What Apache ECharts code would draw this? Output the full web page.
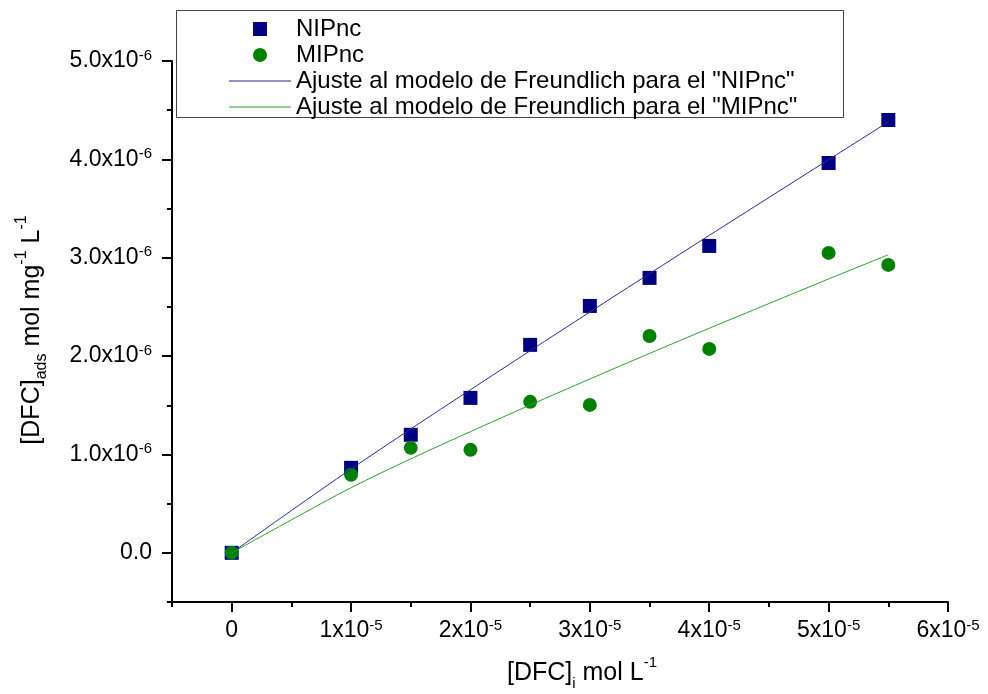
<!DOCTYPE html>
<html>
<head>
<meta charset="utf-8">
<script src="https://cdn.jsdelivr.net/npm/echarts@6/dist/echarts.min.js"></script>
<style>
    html, body { margin: 0; padding: 0; background: #fff; }
    #main { width: 988px; height: 694px; }
</style>
</head>
<body>
<div id="main"></div>
<script>
// concentraciones iniciales (mol/L)
var concX = [0, 1e-5, 1.5e-5, 2e-5, 2.5e-5, 3e-5, 3.5e-5, 4e-5, 5e-5, 5.5e-5];
var nipValues = [0, 0.864e-6, 1.200e-6, 1.575e-6, 2.114e-6, 2.510e-6, 2.795e-6, 3.120e-6, 3.963e-6, 4.400e-6];
var mipValues = [0, 0.793e-6, 1.067e-6, 1.047e-6, 1.535e-6, 1.504e-6, 2.205e-6, 2.073e-6, 3.049e-6, 2.927e-6];

// curvas de ajuste
var fitX = [0, 0.5e-5, 1e-5, 1.5e-5, 2e-5, 2.5e-5, 3e-5, 3.5e-5, 4e-5, 4.5e-5, 5e-5, 5.5e-5];
var nipFit = [0, 0.430e-6, 0.852e-6, 1.259e-6, 1.658e-6, 2.054e-6, 2.448e-6, 2.838e-6, 3.227e-6, 3.612e-6, 3.997e-6, 4.380e-6];
var mipFit = [0, 0.335e-6, 0.662e-6, 0.955e-6, 1.232e-6, 1.503e-6, 1.767e-6, 2.027e-6, 2.283e-6, 2.534e-6, 2.784e-6, 3.030e-6];

var seriesNames = ['NIPnc', 'MIPnc', 'Ajuste al modelo de Freundlich para el "NIPnc"', 'Ajuste al modelo de Freundlich para el "MIPnc"'];

var xTickText = ['0', '1x10', '2x10', '3x10', '4x10', '5x10', '6x10'];
var xTickExp = ['', '-5', '-5', '-5', '-5', '-5', '-5'];
var yTickText = ['0.0', '1.0x10', '2.0x10', '3.0x10', '4.0x10', '5.0x10'];
var yTickExp = ['', '-6', '-6', '-6', '-6', '-6'];

var xMin = -5e-6, xMax = 6e-5;
var yMin = -5e-7, yMax = 5e-6;

function pairs(xs, ys) {
    var out = [];
    for (var i = 0; i < xs.length; i++) {
        out.push([xs[i], ys[i]]);
    }
    return out;
}

var font = 'Liberation Sans';
var labelRich = {
    b: { fontFamily: font, fontSize: 23, lineHeight: 26, verticalAlign: 'middle', color: '#000' },
    s: { fontFamily: font, fontSize: 15, lineHeight: 14, verticalAlign: 'top', color: '#000' }
};
var lineIcon = 'path://M0,0L62,0L62,1.2L0,1.2Z';

// posicion del grid principal
var gLeft = 172, gRight = 40, gTop = 61, gBottom = 92;
var plotW = 988 - gLeft - gRight;
var plotH = 694 - gTop - gBottom;
var xShift = plotW * (0 - xMin) / (xMax - xMin);
var yShift = plotH * (0 - yMin) / (yMax - yMin);

var chart = echarts.init(document.getElementById('main'));
var option = {
    animation: false,
    backgroundColor: '#fff',
    grid: [
        { left: gLeft, right: gRight, top: gTop, bottom: gBottom },
        { left: gLeft + xShift, right: gRight, top: gTop, bottom: gBottom + yShift }
    ],
    xAxis: [
        {
            type: 'value', gridIndex: 0, min: xMin, max: xMax, interval: 5e-6,
            axisLine: { onZero: false, lineStyle: { color: '#000', width: 2 } },
            axisTick: { length: 5, lineStyle: { color: '#000', width: 2 } },
            axisLabel: { show: false },
            splitLine: { show: false }
        },
        {
            type: 'value', gridIndex: 1, min: 0, max: xMax, interval: 1e-5, offset: yShift,
            axisLine: { show: false, onZero: false },
            axisTick: { length: 10, lineStyle: { color: '#000', width: 2 } },
            axisLabel: {
                margin: 16,
                formatter: function (v) {
                    var i = Math.round(v / 1e-5);
                    var t = '{b|' + xTickText[i] + '}';
                    if (xTickExp[i]) t += '{s|' + xTickExp[i] + '}';
                    return t;
                },
                rich: labelRich
            },
            splitLine: { show: false }
        }
    ],
    yAxis: [
        {
            type: 'value', gridIndex: 0, min: yMin, max: yMax, interval: 5e-7,
            axisLine: { onZero: false, lineStyle: { color: '#000', width: 2 } },
            axisTick: { length: 5, lineStyle: { color: '#000', width: 2 } },
            axisLabel: { show: false },
            splitLine: { show: false }
        },
        {
            type: 'value', gridIndex: 1, min: 0, max: yMax, interval: 1e-6, offset: xShift,
            axisLine: { show: false, onZero: false },
            axisTick: { length: 10, lineStyle: { color: '#000', width: 2 } },
            axisLabel: {
                margin: 20,
                formatter: function (v) {
                    var i = Math.round(v / 1e-6);
                    var t = '{b|' + yTickText[i] + '}';
                    if (yTickExp[i]) t += '{s|' + yTickExp[i] + '}';
                    return t;
                },
                rich: labelRich
            },
            splitLine: { show: false }
        }
    ],
    legend: {
        orient: 'vertical',
        left: 224,
        top: 12,
        itemWidth: 62,
        itemHeight: 14,
        itemGap: 2,
        textStyle: { fontFamily: font, fontSize: 24, color: '#000' },
        data: [
            { name: seriesNames[0], icon: 'path://M0,0L10,0L10,10L0,10Z' },
            { name: seriesNames[1], icon: 'circle' },
            { name: seriesNames[2], icon: lineIcon },
            { name: seriesNames[3], icon: lineIcon }
        ]
    },
    graphic: [
        {
            type: 'rect', z: 1,
            shape: { x: 176.5, y: 10.5, width: 667, height: 107 },
            style: { fill: '#fff', stroke: '#444', lineWidth: 1 }
        },
        {
            type: 'text', x: 582, y: 673,
            style: {
                text: '{m|[DFC]}{sub|i}{m| mol L}{sup|-1}',
                align: 'center', verticalAlign: 'middle',
                rich: {
                    m: { fontFamily: font, fontSize: 25, lineHeight: 36, verticalAlign: 'middle', fill: '#000' },
                    sub: { fontFamily: font, fontSize: 15, lineHeight: 15, verticalAlign: 'bottom', fill: '#000' },
                    sup: { fontFamily: font, fontSize: 15, lineHeight: 20, verticalAlign: 'top', fill: '#000' }
                }
            }
        },
        {
            type: 'text', x: 32, y: 330, rotation: Math.PI / 2,
            style: {
                text: '{m|[DFC]}{sub|ads}{m| mol mg}{sup|-1}{m| L}{sup|-1}',
                align: 'center', verticalAlign: 'middle',
                rich: {
                    m: { fontFamily: font, fontSize: 25, lineHeight: 36, verticalAlign: 'middle', fill: '#000' },
                    sub: { fontFamily: font, fontSize: 16, lineHeight: 15, verticalAlign: 'bottom', fill: '#000' },
                    sup: { fontFamily: font, fontSize: 16, lineHeight: 20, verticalAlign: 'top', fill: '#000' }
                }
            }
        }
    ],
    series: [
        {
            name: seriesNames[0], type: 'scatter', xAxisIndex: 0, yAxisIndex: 0,
            symbol: 'rect', symbolSize: 14,
            itemStyle: { color: '#000080', opacity: 1 },
            data: pairs(concX, nipValues)
        },
        {
            name: seriesNames[1], type: 'scatter', xAxisIndex: 0, yAxisIndex: 0,
            symbol: 'circle', symbolSize: 14,
            itemStyle: { color: '#008000', opacity: 1 },
            data: pairs(concX, mipValues)
        },
        {
            name: seriesNames[2], type: 'line', xAxisIndex: 0, yAxisIndex: 0,
            symbol: 'none', z: 3, smooth: 0.3,
            lineStyle: { color: '#2a2a9a', width: 1 },
            itemStyle: { color: '#2a2a9a' },
            data: pairs(fitX, nipFit)
        },
        {
            name: seriesNames[3], type: 'line', xAxisIndex: 0, yAxisIndex: 0,
            symbol: 'none', z: 3, smooth: 0.3,
            lineStyle: { color: '#2f9f2f', width: 1 },
            itemStyle: { color: '#2f9f2f' },
            data: pairs(fitX, mipFit)
        }
    ]
};
chart.setOption(option);
</script>
</body>
</html>
